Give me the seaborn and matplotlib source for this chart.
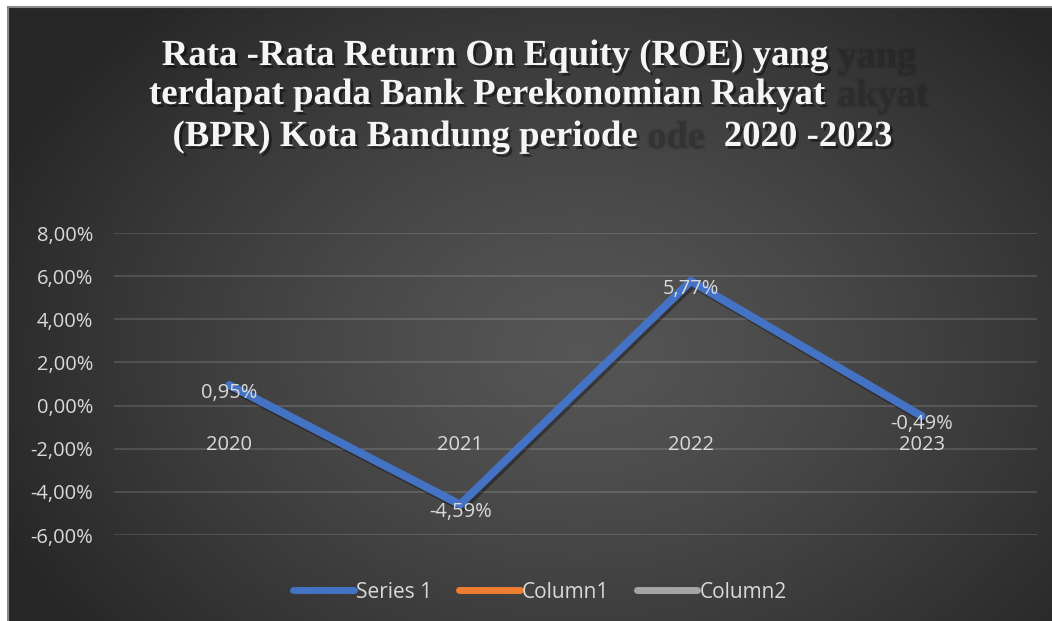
import numpy as np
import matplotlib
matplotlib.use("Agg")
import matplotlib.pyplot as plt
import matplotlib.patheffects as pe
from matplotlib.lines import Line2D
from matplotlib.ticker import FuncFormatter
import seaborn as sns

# ---- data ----
years = ["2020", "2021", "2022", "2023"]
roe_pct = [0.95, -4.59, 5.77, -0.49]
y_ticks = [-6, -4, -2, 0, 2, 4, 6, 8]
series_names = ["Series 1", "Column1", "Column2"]
series_colors = ["#4472C4", "#ED7D31", "#A5A5A5"]
title_lines = ["Rata -Rata Return On Equity (ROE) yang",
               "terdapat pada Bank Perekonomian Rakyat",
               "(BPR) Kota Bandung periode",
               "2020 -2023"]
ghost_fragments = ["yang", "akyat", "ode"]

W, H = 1052, 621
sns.set_theme(style="dark")
plt.rcParams["font.family"] = ["Open Sans", "DejaVu Sans"]

fig = plt.figure(figsize=(W / 100, H / 100), dpi=100, facecolor="white")

# ---- background with radial gradient ----
bx0, by0 = 8, 7
bg = fig.add_axes([bx0 / W, 0, 1 - bx0 / W, 1 - by0 / H])
gx = np.linspace(bx0, W, 400)
gy = np.linspace(by0, H, 240)
XX, YY = np.meshgrid(gx, gy)
d = np.sqrt(((XX - 580) / 640) ** 2 + ((YY - 350) / 470) ** 2)
d = np.clip(d, 0, 1)
val = 0.335 - (0.335 - 0.15) * d ** 1.3
img = np.dstack([val, val, val])
bg.imshow(img, aspect="auto", extent=[0, 1, 0, 1], interpolation="bilinear")
bg.set_xlim(0, 1)
bg.set_ylim(0, 1)
bg.set_xticks([])
bg.set_yticks([])
for s in ["right", "bottom"]:
    bg.spines[s].set_visible(False)
for s in ["left", "top"]:
    bg.spines[s].set_color("#8a8a8a")
    bg.spines[s].set_linewidth(1.5)

# ---- main axes ----
ax = fig.add_axes([114 / W, 1 - 535 / H, (1037 - 114) / W, (535 - 233) / H])
ax.set_facecolor("none")

sns.lineplot(x=years, y=roe_pct, ax=ax, color=series_colors[0], linewidth=5.8,
             sort=False, legend=False, zorder=5)
ln = ax.lines[0]
ln.set_solid_capstyle("round")
ln.set_solid_joinstyle("miter")
ln.set_path_effects([pe.SimpleLineShadow(offset=(1.5, -2), shadow_color="black", alpha=0.35),
                     pe.Normal()])

ax.set_ylim(-6, 8)
ax.set_xlim(-0.5, len(years) - 0.5)
ax.set_yticks(y_ticks)
ax.yaxis.set_major_formatter(FuncFormatter(lambda v, p: f"{v:.2f}".replace(".", ",") + "%"))
ax.grid(axis="y", color="white", alpha=0.16, linewidth=1.2)
ax.grid(axis="x", visible=False)
ax.set_axisbelow(True)
for s in ax.spines.values():
    s.set_visible(False)
ax.spines["bottom"].set_position(("data", 0))
ax.tick_params(axis="y", length=0, pad=15, labelcolor="#d9d9d9", labelsize=14.5)
ax.tick_params(axis="x", length=0, pad=21, labelcolor="#d9d9d9", labelsize=14.5)
ax.set_xlabel("")
ax.set_ylabel("")

# data labels
for i, v in enumerate(roe_pct):
    ax.annotate(f"{v:.2f}".replace(".", ",") + "%", (i, v), xytext=(0, -5.5),
                textcoords="offset points", ha="center", va="center",
                color="#d9d9d9", fontsize=14.5, zorder=6)

# ---- title ----
serif = ["Liberation Serif", "DejaVu Serif"]
tsize = 26.5

# faint ghost copy fragments (visible parts only)
ghost_pos = [(877, 67), (883, 106), (676, 148)]
for txt, (cx, yb) in zip(ghost_fragments, ghost_pos):
    fig.text(cx / W, 1 - yb / H, txt, family=serif, weight="bold", fontsize=27.5,
             color="#1e1e1e", alpha=0.26, ha="center", va="baseline",
             path_effects=[pe.withStroke(linewidth=3, foreground="#1e1e1e", alpha=0.12)])

real_specs = [
    (title_lines[0], 495, 65),
    (title_lines[1], 487, 104),
    (title_lines[2], 405, 146),
    (title_lines[3], 808, 146),
]
for txt, cx, yb in real_specs:
    fig.text(cx / W, 1 - yb / H, txt, family=serif, weight="bold", fontsize=tsize,
             color="#f5f5f5", ha="center", va="baseline",
             path_effects=[pe.withSimplePatchShadow(offset=(2, -2), shadow_rgbFace="black",
                                                    alpha=0.45)])

# ---- legend ----
handles = [Line2D([], [], color=c, linewidth=5, solid_capstyle="round") for c in series_colors]
leg = fig.legend(handles, series_names, loc="center", bbox_to_anchor=(540 / W, 1 - 592 / H),
                 ncol=3, frameon=False, handlelength=2.9, handletextpad=0.12,
                 columnspacing=1.3, fontsize=15, labelcolor="#d9d9d9")

fig.savefig("out.png", dpi=100, facecolor=fig.get_facecolor())
